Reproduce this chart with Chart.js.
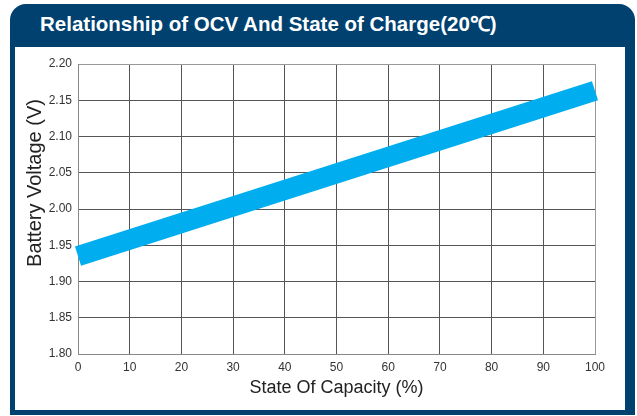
<!DOCTYPE html>
<html>
<head>
<meta charset="utf-8">
<script src="https://cdn.jsdelivr.net/npm/chart.js@4.4.0/dist/chart.umd.min.js"></script>
<style>
  body { margin: 0; background: #fff; width: 637px; height: 416px; overflow: hidden; position: relative; font-family: "Liberation Sans", Arial, sans-serif; }
  .frame { position: absolute; left: 10px; top: 4px; width: 625px; height: 411px; background: #00416f; border-radius: 16px 16px 0 0; }
  .head { position: absolute; left: 40px; top: 12px; font-weight: bold; font-size: 20.5px; line-height: 24px; color: #fff; white-space: nowrap; }
  .inner { position: absolute; left: 15px; top: 47px; width: 610px; height: 363px; background: #fff; }
  canvas { position: absolute; left: 0; top: 0; }
</style>
</head>
<body>
<div class="frame"></div>
<div class="head">Relationship of OCV And State of Charge(20℃)</div>
<div class="inner"></div>
<canvas id="myChart" width="637" height="416"></canvas>
<script>
var soc = [0, 100]
var voltage = [1.935, 2.163]
var yTicks = ['1.80', '1.85', '1.90', '1.95', '2.00', '2.05', '2.10', '2.15', '2.20']
var xTitle = 'State Of Capacity (%)'
var yTitle = 'Battery Voltage (V)'

var points = []
soc.forEach(function(s, i) { points.push({x: s, y: voltage[i]}) })

// y title sits a bit above the middle of the plot in the original
const yTitlePlugin = {
    id: 'yTitle',
    afterDraw: (chart) => {
        const {ctx} = chart;
        ctx.save();
        ctx.translate(35, 183);
        ctx.rotate(-Math.PI / 2);
        ctx.font = '20px "Liberation Sans", Arial, sans-serif';
        ctx.fillStyle = '#222';
        ctx.textAlign = 'center';
        ctx.textBaseline = 'middle';
        ctx.fillText(yTitle, 0, 0);
        ctx.restore();
    }
};

new Chart(document.getElementById('myChart'), {
    type: 'line',
    data: {
        datasets: [{
            data: points,
            borderColor: '#00aeef',
            backgroundColor: '#00aeef',
            borderWidth: 20,
            borderCapStyle: 'butt',
            pointRadius: 0,
            clip: false,
        }]
    },
    options: {
        responsive: false,
        animation: false,
        layout: { padding: {left: 0, top: 64, right: 42, bottom: 0} },
        plugins: { legend: {display: false}, tooltip: {enabled: false} },
        scales: {
            x: {
                type: 'linear',
                min: 0,
                max: 100,
                ticks: {
                    stepSize: 10,
                    padding: 6,
                    color: '#333',
                    font: {family: '"Liberation Sans", Arial', size: 12},
                },
                grid: {
                    drawTicks: false,
                    color: (c) => c.index === 10 ? '#999' : '#555',
                },
                border: {color: '#888'},
                title: {
                    display: true,
                    text: xTitle,
                    color: '#222',
                    font: {family: '"Liberation Sans", Arial', size: 18},
                    padding: {top: 0, bottom: 17},
                },
                afterFit: (scale) => { scale.height = 62 },
            },
            y: {
                min: 1.8,
                max: 2.2,
                ticks: {
                    stepSize: 0.05,
                    padding: 6,
                    color: '#333',
                    font: {family: '"Liberation Sans", Arial', size: 12},
                    callback: (v, i) => yTicks[i],
                },
                grid: {
                    drawTicks: false,
                    color: (c) => c.index === 8 ? '#999' : '#555',
                },
                border: {color: '#888'},
                afterFit: (scale) => { scale.width = 78 },
            },
        },
    },
    plugins: [yTitlePlugin],
});
</script>
</body>
</html>
